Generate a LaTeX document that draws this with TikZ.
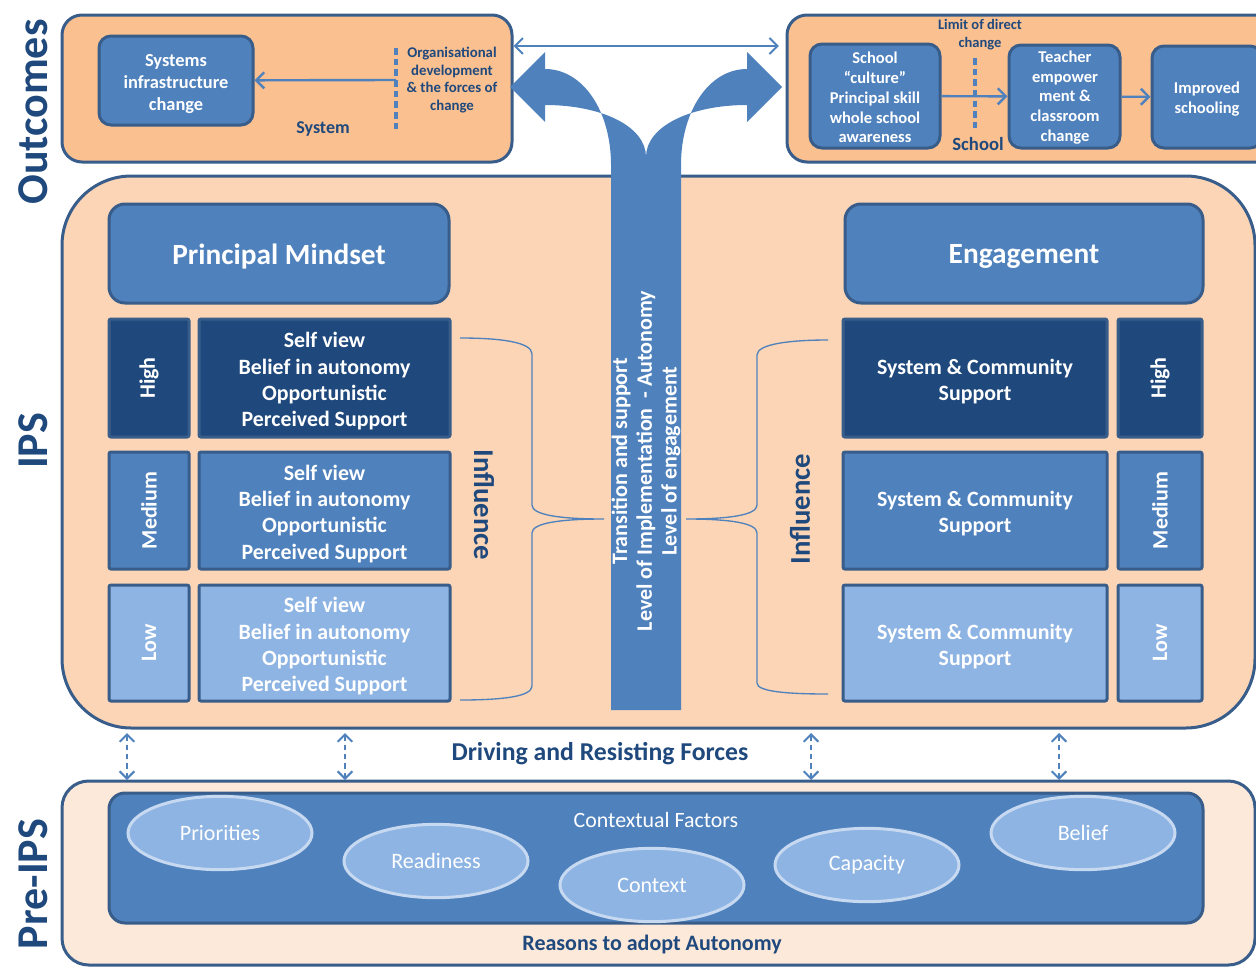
\documentclass[tikz,border=0pt]{standalone}
\usepackage{fontspec}
\setmainfont{Carlito}
\usetikzlibrary{arrows.meta,fit,shapes.geometric}
\definecolor{orangeC}{HTML}{FAC090}
\definecolor{ipsC}{HTML}{FBD5B5}
\definecolor{preC}{HTML}{FDE9D9}
\definecolor{midB}{HTML}{4F81BD}
\definecolor{navyB}{HTML}{1F497D}
\definecolor{lightB}{HTML}{8EB4E3}
\definecolor{edgeB}{HTML}{385D8A}
\definecolor{ellB}{HTML}{C6D9F1}
\definecolor{txtB}{HTML}{1F497D}
\tikzset{
  outbox/.style={draw=edgeB, line width=2.25pt, fill=orangeC, rounded corners=15pt, inner sep=0pt},
  bbox/.style={draw=edgeB, line width=2.25pt, fill=midB, rounded corners=9pt, inner sep=0pt},
  wtext/.style={text=white, font=\bfseries, align=center, inner sep=0pt, yshift=-2.4pt},
  cell/.style={draw=edgeB, line width=2.25pt, rounded corners=1.5pt, inner sep=0pt},
  celltext/.style={text=white, font=\bfseries\fontsize{16.4}{19.7}\selectfont, align=center, inner sep=0pt, yshift=-2.4pt},
  lvl/.style={text=white, font=\bfseries\fontsize{16.5}{18}\selectfont, rotate=90},
  sidelab/.style={text=txtB, font=\bfseries\fontsize{33}{36}\selectfont, rotate=90},
  dtext/.style={text=txtB, font=\bfseries, align=center, inner sep=0pt},
  conn/.style={draw=midB, line width=1.8pt, -{Straight Barb[length=6pt,width=12pt,line width=1.8pt]}},
  dconn/.style={draw=midB, line width=1.5pt, dash pattern=on 4pt off 3pt, {Straight Barb[length=5.5pt,width=11pt,line width=1.5pt]}-{Straight Barb[length=5.5pt,width=11pt,line width=1.5pt]}},
  dline/.style={draw=midB, line width=3pt, dash pattern=on 5pt off 3pt},
  brace/.style={draw=midB, line width=1pt},
  ell/.style={ellipse, fill=lightB, draw=ellB, line width=2.25pt, minimum width=138pt, minimum height=55pt, inner sep=0pt, text=white, font=\fontsize{16.5}{19}\selectfont},
}
\begin{document}
\begin{tikzpicture}[x=0.75pt,y=-0.75pt]
\useasboundingbox (0,0) rectangle (1256,967);

% side labels
\node[sidelab] (lOut) at (33,112) {Outcomes};
\node[sidelab] (lIPS) at (33,441) {IPS};
\node[sidelab] (lPre) at (33,884) {Pre-IPS};

% Outcome boxes
\node[outbox, fit={(62,15)(512,162)}] (outL) {};
\node[outbox, fit={(787,15)(1285,162)}] (outR) {};

\node[bbox, fit={(99,36)(253,125)}] (sysbox) {};
\node[wtext, font=\bfseries\fontsize{13.8}{16.5}\selectfont] (systxt) at (sysbox) {Systems\\infrastructure\\change};
\draw[dline] (396,48) -- (396,130);
\coordinate (dl) at (396,80);
\draw[conn] (dl) -- (sysbox);
\node[dtext, font=\bfseries\fontsize{11.1}{13.1}\selectfont] (org) at (452,80) {Organisational\\development\\\& the forces of\\change};
\node[dtext, font=\bfseries\fontsize{13.5}{15}\selectfont] (syslab) at (323,129) {System};

\node[bbox, fit={(810,44)(940,148)}] (schbox) {};
\node[wtext, font=\bfseries\fontsize{12.4}{14.85}\selectfont, yshift=2pt] (schtxt) at (875,97) {School\\``culture''\\Principal skill\\whole school\\awareness};
\node[bbox, fit={(1009,45)(1120,148)}] (teabox) {};
\node[wtext, font=\bfseries\fontsize{12.4}{14.85}\selectfont, yshift=2pt] (teatxt) at (1065,97) {Teacher\\empower\\ment \&\\classroom\\change};
\node[bbox, fit={(1152,46)(1262,148)}] (impbox) {};
\node[wtext, font=\bfseries\fontsize{12.4}{14.85}\selectfont, yshift=1.5pt] (imptxt) at (1207,98) {Improved\\schooling};
\node[dtext, font=\bfseries\fontsize{10.9}{13.5}\selectfont] (limit) at (980,35) {Limit of direct\\change};
\draw[dline] (975,58) -- (975,128);
\node[dtext, font=\bfseries\fontsize{14}{15}\selectfont] (schlab) at (978,144) {School};
\draw[conn] (schbox) -- (teabox);
\draw[conn] (teabox) -- (impbox);

\coordinate (topy) at (0,46);
\draw[draw=midB, line width=1.5pt, {Straight Barb[length=6pt,width=12pt,line width=1.5pt]}-{Straight Barb[length=6pt,width=12pt,line width=1.5pt]}] (outL.east |- topy) -- ([xshift=-5pt]outR.west |- topy);

% IPS box
\node[draw=edgeB, line width=2.25pt, fill=ipsC, rounded corners=52pt, inner sep=0pt, fit={(62,176)(1255,728)}] (ips) {};

% big fork arrow
\fill[midB] (611,710) -- (611,165) .. controls (611,111) and (583,69) .. (545,69) -- (545,52) -- (510,87) -- (545,122) -- (545,105) .. controls (601,105) and (646,126) .. (646,157) .. controls (646,126) and (691,105) .. (747,105) -- (747,122) -- (782,87) -- (747,52) -- (747,69) .. controls (709,69) and (681,111) .. (681,165) -- (681,710) -- cycle;
\node[text=white, font=\bfseries\fontsize{16.5}{18.5}\selectfont, align=center, rotate=90] (stemtxt) at (646,461) {Transition and support\\Level of Implementation\ \ - Autonomy\\Level of engagement};

% headers
\node[bbox, rounded corners=12pt, fit={(109,204)(449,303)}] (pm) {};
\node[wtext, font=\bfseries\fontsize{22}{25}\selectfont] (pmt) at (pm) {Principal Mindset};
\node[bbox, rounded corners=12pt, fit={(845,204)(1203,303)}] (eng) {};
\node[wtext, font=\bfseries\fontsize{22}{25}\selectfont] (engt) at (eng) {Engagement};

% left rows
\node[cell, fill=navyB, fit={(109,319)(189,437)}] (lhi) {};
\node[lvl] (lhit) at (lhi) {High};
\node[cell, fill=navyB, fit={(199,319)(450,437)}] (chi) {};
\node[celltext] (chit) at (chi) {Self view\\Belief in autonomy\\Opportunistic\\Perceived Support};
\node[cell, fill=midB, fit={(109,452)(189,569)}] (lme) {};
\node[lvl] (lmet) at (lme) {Medium};
\node[cell, fill=midB, fit={(199,452)(450,569)}] (cme) {};
\node[celltext] (cmet) at (cme) {Self view\\Belief in autonomy\\Opportunistic\\Perceived Support};
\node[cell, fill=lightB, fit={(109,585)(189,701)}] (llo) {};
\node[lvl] (llot) at (llo) {Low};
\node[cell, fill=lightB, fit={(199,585)(450,701)}] (clo) {};
\node[celltext] (clot) at (clo) {Self view\\Belief in autonomy\\Opportunistic\\Perceived Support};

% right rows
\node[cell, fill=navyB, fit={(843,319)(1107,437)}] (rchi) {};
\node[celltext] (rchit) at (rchi) {System \& Community\\Support};
\node[cell, fill=navyB, fit={(1118,319)(1202,437)}] (rhi) {};
\node[lvl] (rhit) at (rhi) {High};
\node[cell, fill=midB, fit={(843,452)(1107,569)}] (rcme) {};
\node[celltext] (rcmet) at (rcme) {System \& Community\\Support};
\node[cell, fill=midB, fit={(1118,452)(1202,569)}] (rme) {};
\node[lvl] (rmet) at (rme) {Medium};
\node[cell, fill=lightB, fit={(843,585)(1107,701)}] (rclo) {};
\node[celltext] (rclot) at (rclo) {System \& Community\\Support};
\node[cell, fill=lightB, fit={(1118,585)(1202,701)}] (rlo) {};
\node[lvl] (rlot) at (rlo) {Low};

% braces
\coordinate (bLt) at (460,338);
\coordinate (bLb) at (460,700);
\coordinate (bLtip) at (604,519);
\draw[brace] (bLt) .. controls (500,338) and (532,342) .. (532,354) -- (532,505) .. controls (532,515) and (560,519) .. (bLtip) .. controls (560,519) and (532,523) .. (532,533) -- (532,686) .. controls (532,697) and (500,700) .. (bLb);
\coordinate (bRt) at (828,340);
\coordinate (bRb) at (828,694);
\coordinate (bRtip) at (686,519);
\draw[brace] (bRt) .. controls (790,340) and (757,344) .. (757,355) -- (757,505) .. controls (757,515) and (730,519) .. (bRtip) .. controls (730,519) and (757,523) .. (757,533) -- (757,683) .. controls (757,692) and (790,694) .. (bRb);
\node[text=txtB, font=\bfseries\fontsize{21.5}{25}\selectfont, rotate=-90] (infL) at (484,505) {Influence};
\node[text=txtB, font=\bfseries\fontsize{21.5}{25}\selectfont, rotate=90] (infR) at (800,509) {Influence};

% Pre-IPS
\node[draw=edgeB, line width=2.25pt, fill=preC, rounded corners=20pt, inner sep=0pt, fit={(62,781)(1255,965)}] (pre) {};
\node[bbox, rounded corners=12pt, fit={(109,793)(1203,923)}] (ctx) {};
\node[text=white, font=\fontsize{16.4}{19}\selectfont, inner sep=0pt] (ctxlab) at (656,820) {Contextual Factors};
\node[ell] (e1) at (220,833) {Priorities};
\node[ell] (e2) at (436,861) {Readiness};
\node[ell] (e3) at (652,885) {Context};
\node[ell] (e4) at (867,865) {Capacity};
\node[ell] (e5) at (1083,833) {Belief};
\node[dtext, font=\bfseries\fontsize{16.5}{19}\selectfont] (reasons) at (652,944) {Reasons to adopt Autonomy};

% driving forces
\node[dtext, font=\bfseries\fontsize{19.3}{22}\selectfont] (drive) at (600,754) {Driving and Resisting Forces};
\foreach \i/\xx in {1/127,2/345,3/811,4/1059}{
  \coordinate (da\i) at (\xx,733);
  \coordinate (db\i) at (\xx,780);
  \draw[dconn] (da\i) -- (db\i);
}
\end{tikzpicture}
\end{document}
